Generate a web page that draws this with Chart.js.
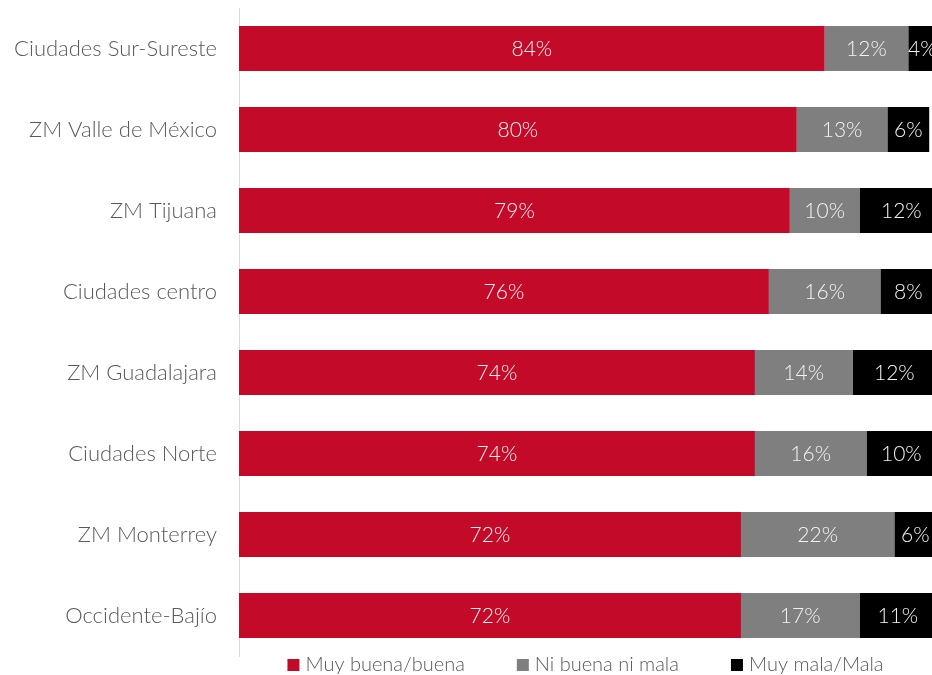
<!DOCTYPE html>
<html>
<head>
<meta charset="utf-8">
<script src="https://cdn.jsdelivr.net/npm/chart.js@4/dist/chart.umd.min.js"></script>
<style>
  html, body { margin: 0; padding: 0; background: #ffffff; overflow: hidden; }
  #wrap { width: 932px; height: 675px; position: relative; }
</style>
</head>
<body>
<div id="wrap"><canvas id="chart"></canvas></div>
<script>
// Opinión por región (porcentajes)
const categories = [
  'Ciudades Sur-Sureste',
  'ZM Valle de México',
  'ZM Tijuana',
  'Ciudades centro',
  'ZM Guadalajara',
  'Ciudades Norte',
  'ZM Monterrey',
  'Occidente-Bajío'
];
const seriesNames = ['Muy buena/buena', 'Ni buena ni mala', 'Muy mala/Mala'];
const muyBuena = [84, 80, 79, 76, 74, 74, 72, 72];
const niBuenaNiMala = [12, 13, 10, 16, 14, 16, 22, 17];
const muyMala = [4, 6, 12, 8, 12, 10, 6, 11];

const FONT = 'Lato, "Open Sans", "Noto Sans", sans-serif';
const colors = ['#C30A28', '#7F7F7F', '#000000'];
const textGray = '#595959';

// Writes each segment's percentage in the middle of its bar
const segmentLabels = {
  id: 'segmentLabels',
  afterDatasetsDraw(chart) {
    const ctx = chart.ctx;
    ctx.save();
    ctx.font = '300 21px ' + FONT;
    ctx.fillStyle = '#F2F2F2';
    ctx.textAlign = 'center';
    ctx.textBaseline = 'middle';
    chart.data.datasets.forEach((ds, di) => {
      const meta = chart.getDatasetMeta(di);
      meta.data.forEach((bar, i) => {
        const cx = (bar.x + bar.base) / 2;
        ctx.fillText(ds.data[i] + '%', cx, bar.y + 1);
      });
    });
    ctx.restore();
  }
};

// Legend row under the plot, centred on the plot area
const bottomLegend = {
  id: 'bottomLegend',
  afterDraw(chart) {
    const ctx = chart.ctx;
    const area = chart.chartArea;
    const box = 12, gapText = 6, gapItem = 52;
    ctx.save();
    ctx.font = '300 20px ' + FONT;
    ctx.textBaseline = 'middle';
    ctx.textAlign = 'left';
    const items = chart.data.datasets.map(ds => ({
      text: ds.label, color: ds.backgroundColor, w: ctx.measureText(ds.label).width
    }));
    const total = items.reduce((s, it) => s + box + gapText + it.w, 0) + gapItem * (items.length - 1);
    let x = (area.left + area.right) / 2 - total / 2;
    const y = 665;
    items.forEach(it => {
      ctx.fillStyle = it.color;
      ctx.fillRect(x, y - box / 2, box, box);
      x += box + gapText;
      ctx.fillStyle = textGray;
      ctx.fillText(it.text, x, y);
      x += it.w + gapItem;
    });
    ctx.restore();
  }
};

new Chart(document.getElementById('chart'), {
  type: 'bar',
  data: {
    labels: categories,
    datasets: [
      { label: seriesNames[0], data: muyBuena, backgroundColor: colors[0] },
      { label: seriesNames[1], data: niBuenaNiMala, backgroundColor: colors[1] },
      { label: seriesNames[2], data: muyMala, backgroundColor: colors[2] }
    ]
  },
  options: {
    indexAxis: 'y',
    responsive: true,
    maintainAspectRatio: false,
    animation: false,
    layout: { padding: { top: 8, right: 0, left: 0, bottom: 19 } },
    datasets: {
      bar: { categoryPercentage: 1, barPercentage: 0.556, borderWidth: 0 }
    },
    scales: {
      x: {
        stacked: true,
        display: false,
        min: 0,
        max: 99.4
      },
      y: {
        stacked: true,
        afterFit(scale) {
          scale.width = 239;
          scale.paddingTop = 0;
          scale.paddingBottom = 0;
        },
        grid: { display: false, drawTicks: false },
        border: { display: true, color: '#D9D9D9', width: 1 },
        ticks: {
          padding: 22,
          color: textGray,
          font: { family: FONT, size: 22, weight: '300' }
        }
      }
    },
    plugins: {
      tooltip: { enabled: false },
      legend: { display: false }
    }
  },
  plugins: [segmentLabels, bottomLegend]
});
</script>
</body>
</html>
